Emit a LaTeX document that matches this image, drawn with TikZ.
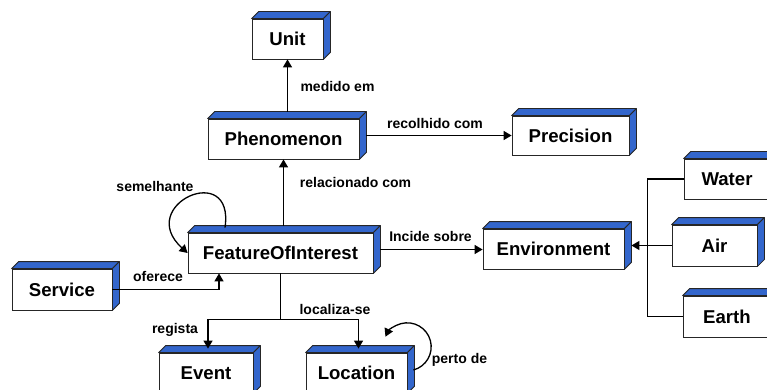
\documentclass[tikz,border=0pt]{standalone}
\usepackage{fontspec}
\setmainfont{Liberation Sans}
\usetikzlibrary{arrows.meta,calc}
\definecolor{faceblue}{RGB}{51,102,204}
\tikzset{
  box/.style={draw=black!85, line width=0.8pt, fill=white, inner sep=0pt,
    font=\fontsize{18.6}{20}\selectfont\bfseries},
  lbl/.style={font=\fontsize{14}{16}\selectfont\bfseries, inner sep=0pt},
  conn/.style={line width=1.3pt, black},
  arr/.style={conn, -{Triangle[length=8pt,width=9pt]}},
  face/.style={fill=faceblue, draw=black!85, line width=0.8pt, line join=round},
}
\newcommand\cubefaces[1]{%
  \path[face] (#1.north west) -- ([shift={(7,-7)}]#1.north west) -- ([shift={(7,-7)}]#1.north east) -- (#1.north east) -- cycle;
  \path[face] (#1.north east) -- ([shift={(7,-7)}]#1.north east) -- ([shift={(7,-7)}]#1.south east) -- (#1.south east) -- cycle;}
\begin{document}
\begin{tikzpicture}[x=1pt,y=-1pt]
\useasboundingbox (0,0) rectangle (767,390);
\clip (0,0) rectangle (767,390);
% boxes
\node[box, minimum width=71pt, minimum height=40pt] (unit) at (287.5,39) {Unit};
\node[box, minimum width=151pt, minimum height=40pt] (phen) at (283.5,139) {Phenomenon};
\node[box, minimum width=117pt, minimum height=39pt] (prec) at (570.5,135.5) {Precision};
\node[box, minimum width=185pt, minimum height=40pt] (foi) at (280.5,253) {FeatureOfInterest};
\node[box, minimum width=141pt, minimum height=40pt] (env) at (553.5,249) {Environment};
\node[box, minimum width=86pt, minimum height=40pt] (water) at (727,179) {Water};
\node[box, minimum width=85pt, minimum height=41pt] (air) at (714.5,245.5) {Air};
\node[box, minimum width=88pt, minimum height=41pt] (earth) at (727,316.5) {Earth};
\node[box, minimum width=100pt, minimum height=41pt] (serv) at (62,289.5) {Service};
\node[box, minimum width=94pt, minimum height=40pt] (event) at (206,373) {Event};
\node[box, minimum width=101pt, minimum height=40pt] (loc) at (356.5,373) {Location};
\foreach \n in {unit,phen,prec,foi,env,water,air,earth,serv,event,loc}{\cubefaces{\n}}
% helper coordinates
\coordinate (phT) at ([yshift=7pt]phen.north);
\coordinate (phR) at ([shift={(7pt,3.5pt)}]phen.east);
\coordinate (foiT) at ([yshift=7pt]foi.north);
\coordinate (foiR) at ([shift={(7pt,3.5pt)}]foi.east);
\coordinate (foiB) at ([xshift=-61.5pt]foi.south);
\coordinate (split) at ([yshift=-46pt]foi.south);
\coordinate (envR) at ([shift={(7pt,3.5pt)}]env.east);
\coordinate (bus) at ([xshift=-36pt]water.west);
\coordinate (semS) at ([shift={(-55.5pt,5pt)}]foi.north);
\coordinate (pertoS) at ([shift={(6pt,3pt)}]loc.east);
% connectors
\draw[arr] (phT -| unit.south) -- (unit.south);
\draw[arr] (phR) -- (phR -| prec.west);
\draw[arr] (foiT -| phen.south) -- (phen.south);
\draw[arr] (foiR) -- (foiR -| env.west);
\draw[arr] (serv.east) -| (foiB);
\draw[conn] (foi.south) -- (split);
\draw[arr] (split) -| ([shift={(2pt,4pt)}]event.north);
\draw[arr] (split) -| ([shift={(2pt,4pt)}]loc.north);
\draw[conn] (water.west) -- (bus) -- (bus |- earth.west) -- (earth.west);
\draw[arr] (air.west) -- (envR);
\draw[arr] (semS) .. controls +(10,-68) and +(-53,-48) .. (foi.west);
\draw[arr] (pertoS) arc[start angle=-75, end angle=155, radius=24pt];
% labels
\node[lbl] (l1) at (337.5,86) {medido em};
\node[lbl] (l2) at (435,123) {recolhido com};
\node[lbl] (l3) at (355.5,182) {relacionado com};
\node[lbl] (l4) at (155,186) {semelhante};
\node[lbl] (l5) at (430.5,236) {Incide sobre};
\node[lbl] (l6) at (158,276) {oferece};
\node[lbl] (l7) at (335,309) {localiza-se};
\node[lbl] (l8) at (175,330) {regista};
\node[lbl] (l9) at (459.5,360) {perto de};
\end{tikzpicture}
\end{document}
